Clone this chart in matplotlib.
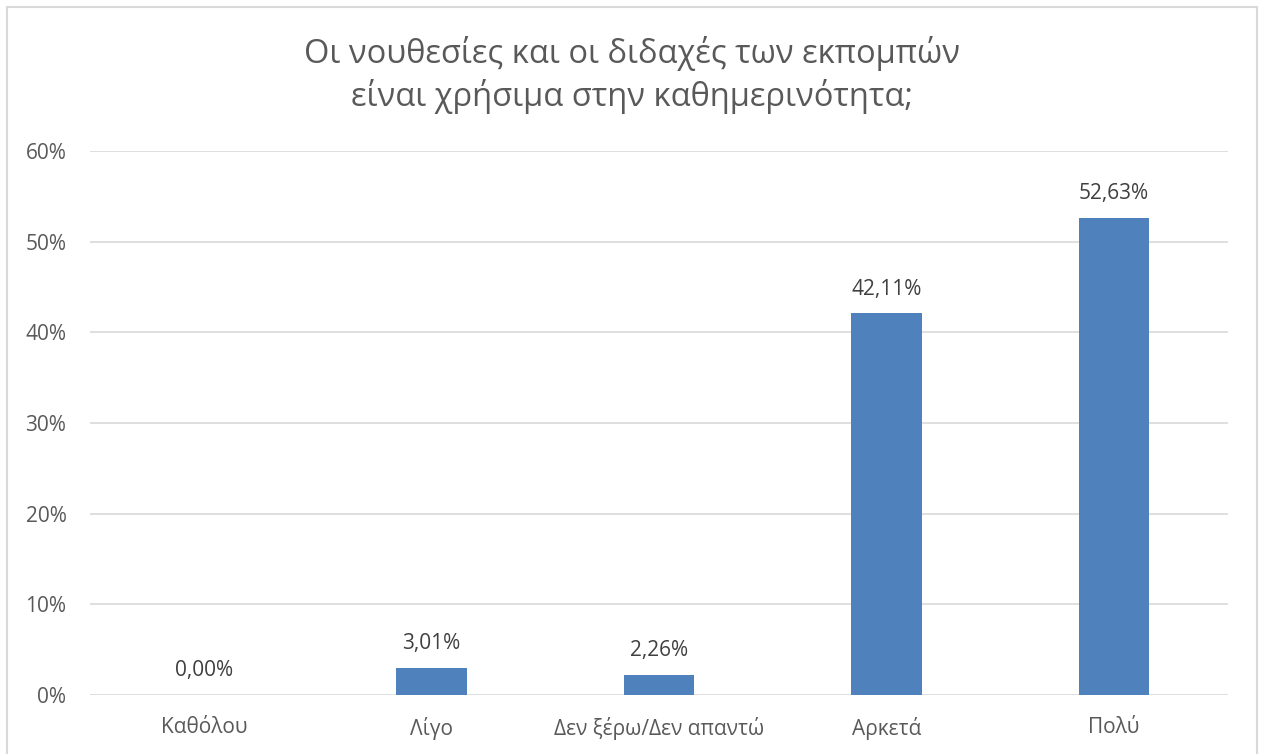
import matplotlib.pyplot as plt
from matplotlib.patches import Rectangle
from matplotlib.ticker import PercentFormatter

plt.rcParams['font.family'] = ['Open Sans', 'DejaVu Sans']

categories = ['Καθόλου', 'Λίγο', 'Δεν ξέρω/Δεν απαντώ', 'Αρκετά', 'Πολύ']
values = [0.00, 3.01, 2.26, 42.11, 52.63]
title = 'Οι νουθεσίες και οι διδαχές των εκπομπών\nείναι χρήσιμα στην καθημερινότητα;'

text_color = '#595959'
bar_color = '#4F81BD'
grid_color = '#D9D9D9'

fig = plt.figure(figsize=(12.64, 7.54), dpi=100)
ax = fig.add_axes([0.0712, 0.0782, 0.9003, 0.7215])

x = range(len(categories))
ax.bar(x, values, width=0.31, color=bar_color, zorder=3)
for i, v in zip(x, values):
    ax.text(i, v + 1.5, f'{v:.2f}%'.replace('.', ','), ha='center', va='bottom',
            fontsize=15, color='#404040')

ax.set_xlim(-0.5, len(categories) - 0.5)
ax.set_ylim(0, 60)
ax.set_yticks(range(0, 61, 10))
ax.yaxis.set_major_formatter(PercentFormatter(decimals=0))
ax.set_xticks(list(x))
ax.set_xticklabels(categories)
ax.tick_params(axis='both', length=0, labelsize=15, labelcolor=text_color)
ax.tick_params(axis='x', pad=16)
ax.tick_params(axis='y', pad=17)
ax.grid(axis='y', color=grid_color, linewidth=1.2, zorder=0)
for s in ax.spines.values():
    s.set_visible(False)

fig.text(0.5, 0.901, title, ha='center', va='center', fontsize=23.5,
         color=text_color, linespacing=1.3)

# chart border
fig.patches.append(Rectangle((7 / 1264, -0.05), 1250 / 1264, 1.05 - 7 / 754,
                             transform=fig.transFigure, fill=False,
                             edgecolor='#D9D9D9', linewidth=1.5))

fig.savefig('out.png', dpi=100)
